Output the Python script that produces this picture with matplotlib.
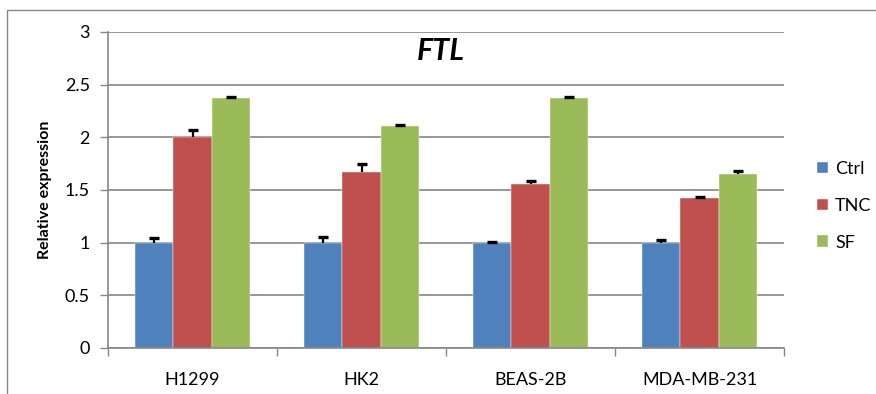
import numpy as np
import matplotlib
matplotlib.use('Agg')
import matplotlib.pyplot as plt
from matplotlib.patches import Rectangle

plt.rcParams['font.family'] = ['Lato', 'DejaVu Sans']

# data
cell_lines = ['H1299', 'HK2', 'BEAS-2B', 'MDA-MB-231']
series = ['Ctrl', 'TNC', 'SF']
ctrl = [1.0, 1.0, 1.0, 1.0]
tnc = [2.0, 1.67, 1.56, 1.42]
sf = [2.37, 2.11, 2.37, 1.65]
ctrl_err = [0.04, 0.05, 0.01, 0.03]
tnc_err = [0.07, 0.08, 0.03, 0.01]
sf_err = [0.01, 0.01, 0.01, 0.03]
colors = ['#4f81bd', '#c0504d', '#9bbb59']

grid_c = '#868686'

fig = plt.figure(figsize=(8.76, 3.94), dpi=100)
ax = fig.add_axes([108/876, 46/394, (784-108)/876, (348-32)/394])

# chart frame
fig.patches.append(Rectangle((7/876, -0.05), 1.0, (394-10)/394 + 0.05,
                             transform=fig.transFigure, fill=False,
                             edgecolor=grid_c, lw=1.0))

x = np.arange(len(cell_lines))
w = 0.225
for i, (vals, errs) in enumerate([(ctrl, ctrl_err), (tnc, tnc_err), (sf, sf_err)]):
    pos = x + (i - 1) * w
    ax.bar(pos, vals, width=w, color=colors[i], label=series[i], zorder=2,
           edgecolor='white', linewidth=0.3)
    eb = ax.errorbar(pos, vals, yerr=[np.zeros(len(errs)), errs], fmt='none',
                     ecolor='black', elinewidth=1.6, capsize=3.5, capthick=2.4,
                     zorder=3)
    # only the upper cap, like Excel "plus" error bars
    eb[1][0].set_visible(False)

ax.set_xlim(-0.5, 3.5)
ax.set_ylim(0, 3)
ax.set_yticks(np.arange(0, 3.01, 0.5))
ax.set_yticklabels(['0', '0.5', '1', '1.5', '2', '2.5', '3'])
ax.yaxis.grid(True, color=grid_c, lw=1.2, zorder=0)
ax.set_axisbelow(True)

ax.set_xticks(x)
ax.set_xticklabels(cell_lines)
ax.tick_params(axis='x', length=0, pad=17, labelsize=13)
ax.set_xticks(np.arange(-0.5, 4.0, 1.0), minor=True)
ax.tick_params(axis='x', which='minor', length=6, color=grid_c, width=1)
ax.tick_params(axis='y', length=6, color=grid_c, width=1, labelsize=13, pad=7)

for s in ['top', 'right']:
    ax.spines[s].set_visible(False)
for s in ['left', 'bottom']:
    ax.spines[s].set_color(grid_c)
    ax.spines[s].set_linewidth(1.2)

ax.set_ylabel('Relative expression', fontsize=11.5, fontweight='bold', labelpad=9)
ax.text(0.493, 0.94, 'FTL', transform=ax.transAxes, ha='center', va='center',
        fontsize=22, fontweight='bold', fontstyle='italic')

ax.legend(loc='center left', bbox_to_anchor=(1.025, 0.45), frameon=False,
          fontsize=13, handlelength=0.6, handleheight=0.6, labelspacing=1.15,
          handletextpad=0.4)

fig.savefig('out.png', dpi=100)
